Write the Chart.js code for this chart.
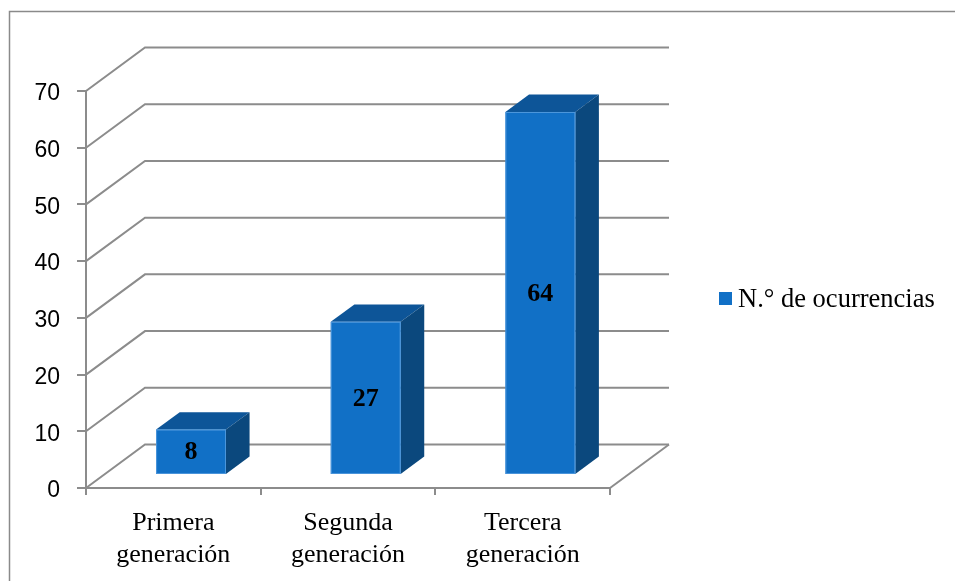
<!DOCTYPE html>
<html>
<head>
<meta charset="utf-8">
<script src="https://cdn.jsdelivr.net/npm/chart.js@4.4.0/dist/chart.umd.min.js"></script>
<style>
  html, body { margin: 0; padding: 0; background: #fff; overflow: hidden; }
  #contenedor { position: relative; width: 955px; height: 581px; }
</style>
</head>
<body>
<div id="contenedor"><canvas id="grafico" width="955" height="581"></canvas></div>
<script>
// Datos
const CATEGORIAS = [['Primera', 'generación'], ['Segunda', 'generación'], ['Tercera', 'generación']];
const OCURRENCIAS = [8, 27, 64];
const SERIE = 'N.° de ocurrencias';
const Y_MIN = 0, Y_MAX = 70, Y_PASO = 10;

// Estilo
const GRIS = '#8c8c8c';
const AZUL = { frente: '#1170c6', arriba: '#0d5598', lado: '#0b487d', borde: '#4d97dc' };
const SERIF = "'Liberation Serif', 'Times New Roman', serif";
const SANS = "'Liberation Sans', Arial, sans-serif";

// Perspectiva de la caja 3D (desplazamiento de la pared del fondo)
const PROF_X = 59, PROF_Y = -43.5;
const BARRA_INI = 0.3, BARRA_PROF = 0.4;

const linea = (ctx, pts) => {
    ctx.beginPath();
    ctx.moveTo(pts[0][0], pts[0][1]);
    for (let i = 1; i < pts.length; i++) ctx.lineTo(pts[i][0], pts[i][1]);
    ctx.stroke();
};

const poligono = (ctx, pts, color) => {
    ctx.beginPath();
    ctx.moveTo(pts[0][0], pts[0][1]);
    for (let i = 1; i < pts.length; i++) ctx.lineTo(pts[i][0], pts[i][1]);
    ctx.closePath();
    ctx.fillStyle = color;
    ctx.fill();
};

const caja3d = {
    id: 'caja3d',
    beforeDraw(chart) {
        // marco exterior
        const ctx = chart.ctx;
        ctx.save();
        ctx.strokeStyle = '#8a8a8a';
        ctx.lineWidth = 1.5;
        linea(ctx, [[9.5, chart.height], [9.5, 11.5], [chart.width, 11.5]]);
        ctx.restore();
    },
    beforeDatasetsDraw(chart) {
        const { ctx, chartArea: a, scales: { y } } = chart;
        ctx.save();
        ctx.strokeStyle = GRIS;
        ctx.lineWidth = 2;
        // pared lateral y pared del fondo
        for (let v = Y_MIN; v <= Y_MAX; v += Y_PASO) {
            const py = y.getPixelForValue(v);
            linea(ctx, [[a.left, py], [a.left + PROF_X, py + PROF_Y], [a.right + PROF_X, py + PROF_Y]]);
        }
        // borde derecho del piso
        linea(ctx, [[a.right, a.bottom], [a.right + PROF_X, a.bottom + PROF_Y]]);
        ctx.restore();
    },
    beforeDatasetDraw() {
        return false;
    },
    afterDatasetsDraw(chart) {
        const ctx = chart.ctx;
        const meta = chart.getDatasetMeta(0);
        const dx = PROF_X * BARRA_INI, dy = PROF_Y * BARRA_INI;
        const px = PROF_X * BARRA_PROF, py = PROF_Y * BARRA_PROF;
        ctx.save();
        meta.data.forEach((el, i) => {
            const izq = el.x - el.width / 2 + dx;
            const der = izq + el.width;
            const sup = el.y + dy;
            const inf = el.base + dy;
            // cara superior
            poligono(ctx, [[izq, sup], [izq + px, sup + py], [der + px, sup + py], [der, sup]], AZUL.arriba);
            // cara lateral
            poligono(ctx, [[der, sup], [der + px, sup + py], [der + px, inf + py], [der, inf]], AZUL.lado);
            // cara frontal
            ctx.fillStyle = AZUL.frente;
            ctx.fillRect(izq, sup, el.width, inf - sup);
            ctx.strokeStyle = AZUL.borde;
            ctx.lineWidth = 1;
            ctx.strokeRect(izq + 0.5, sup + 0.5, el.width - 1, inf - sup - 1);
            // etiqueta de valor
            ctx.fillStyle = '#000';
            ctx.font = `bold 26px ${SERIF}`;
            ctx.textAlign = 'center';
            ctx.textBaseline = 'middle';
            ctx.fillText(String(chart.data.datasets[0].data[i]), (izq + der) / 2, (sup + inf) / 2 + 1);
        });
        ctx.restore();
    },
    afterDraw(chart) {
        // leyenda
        const { ctx, chartArea: a } = chart;
        const x = a.right + 109, yc = 299;
        ctx.save();
        ctx.fillStyle = AZUL.frente;
        ctx.fillRect(x, yc - 7, 13, 13);
        ctx.fillStyle = '#000';
        ctx.font = `26.5px ${SERIF}`;
        ctx.textAlign = 'left';
        ctx.textBaseline = 'alphabetic';
        ctx.fillText(chart.data.datasets[0].label, x + 19, yc + 8);
        ctx.restore();
    }
};

new Chart(document.getElementById('grafico'), {
    type: 'bar',
    data: {
        labels: CATEGORIAS,
        datasets: [{
            label: SERIE,
            data: OCURRENCIAS,
            backgroundColor: AZUL.frente,
            categoryPercentage: 1,
            barPercentage: 0.4
        }]
    },
    options: {
        responsive: false,
        animation: false,
        events: [],
        layout: { padding: { top: 91, right: 345, bottom: 0, left: 0 } },
        plugins: {
            legend: { display: false },
            tooltip: { enabled: false }
        },
        scales: {
            x: {
                offset: true,
                afterFit: (s) => { s.height = 93; },
                border: { display: true, color: GRIS, width: 2 },
                grid: { offset: true, drawOnChartArea: false, drawTicks: true, tickLength: 7, color: GRIS, lineWidth: 2 },
                ticks: {
                    color: '#000',
                    padding: 13,
                    maxRotation: 0,
                    font: { family: SERIF, size: 26, lineHeight: 1.2 }
                }
            },
            y: {
                min: Y_MIN,
                max: Y_MAX,
                afterFit: (s) => { s.width = 86; },
                border: { display: true, color: GRIS, width: 2 },
                grid: { drawOnChartArea: false, drawTicks: true, tickLength: 9, color: GRIS, lineWidth: 2 },
                ticks: {
                    stepSize: Y_PASO,
                    color: '#000',
                    padding: 17,
                    labelOffset: 3,
                    font: { family: SANS, size: 23 }
                }
            }
        }
    },
    plugins: [caja3d]
});
</script>
</body>
</html>
